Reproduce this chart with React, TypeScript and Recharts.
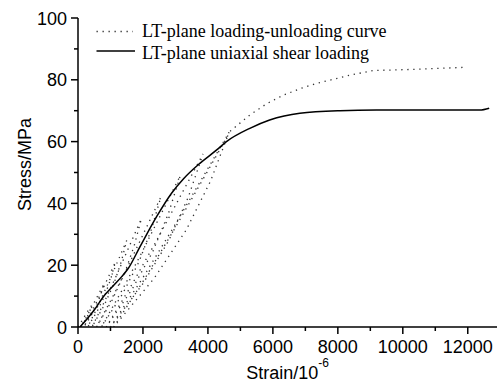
import React from 'react';
import { LineChart, Line, XAxis, YAxis, Legend } from 'recharts';

// Uniaxial shear loading (solid)
const solidStrain = [60, 500, 780, 1100, 1345, 1550, 1910, 2420, 2880, 3250, 3700, 4270, 4570, 5290, 5900, 6830, 8060, 9190, 12370, 12660];
const solidStress = [0, 5.5, 9.8, 13.5, 16.3, 19, 26, 35.7, 43.3, 48, 52.5, 57.3, 60, 64.3, 67, 69.2, 70, 70.2, 70.2, 70.8];

// Loading-unloading cycles (dotted), in path order
const cycStrain = [
  0, 150, 290, 420,
  366, 294, 199, 80,
  274, 454, 627, 800,
  701, 571, 397, 180,
  442, 684, 917, 1150,
  1014, 836, 598, 300,
  624, 924, 1212, 1500,
  1329, 1104, 805, 430,
  840, 1220, 1585, 1950,
  1729, 1439, 1053, 570,
  1105, 1600, 2075, 2550,
  2257, 1873, 1361, 720,
  1376, 1984, 2567, 3150,
  2785, 2306, 1668, 870,
  1675, 2420, 3135, 3850,
  3394, 2796, 1998, 1000,
  1986, 2898, 3774, 4650,
  4082, 3337, 2343, 1100,
  2072, 2972, 3836, 4700,
  5290, 5800, 6320, 6850, 7340, 8370, 9090, 10420, 11850,
];
const cycStress = [
  0, 2.5, 5, 7,
  5.25, 3.5, 1.75, 0,
  3.5, 7, 10.5, 14,
  10.5, 7, 3.5, 0,
  5.25, 10.5, 15.75, 21,
  15.75, 10.5, 5.25, 0,
  7, 14, 21, 28,
  21, 14, 7, 0,
  8.75, 17.5, 26.25, 35,
  26.25, 17.5, 8.75, 0,
  10.5, 21, 31.5, 42,
  31.5, 21, 10.5, 0,
  12.25, 24.5, 36.75, 49,
  36.75, 24.5, 12.25, 0,
  14, 28, 42, 56,
  42, 28, 14, 0,
  15.75, 31.5, 47.25, 63,
  47.25, 31.5, 15.75, 0,
  15.9, 31.75, 47.6, 63.5,
  68.6, 72.2, 75, 77.2, 78.8, 81.5, 83, 83.4, 84,
];

const xTicks = [0, 1000, 2000, 3000, 4000, 5000, 6000, 7000, 8000, 9000, 10000, 11000, 12000];
const yTicks = [0, 10, 20, 30, 40, 50, 60, 70, 80, 90, 100];

const legendLabels = ['LT-plane loading-unloading curve', 'LT-plane uniaxial shear loading'];

const solidData = solidStrain.map((x, i) => ({ x, y: solidStress[i] }));
const cycData = cycStrain.map((x, i) => ({ x, y: cycStress[i] }));

const SANS = 'Liberation Sans, Arial, sans-serif';
const SERIF = 'Liberation Serif, Times New Roman, serif';

const XTick = (props: any) => {
  const { x, y, payload } = props;
  const v = payload.value;
  const major = v % 2000 === 0;
  return (
    <g>
      <line x1={x} x2={x} y1={y} y2={y + (major ? 7 : 4)} stroke="#000" strokeWidth={1.5} />
      {major && (
        <text x={x} y={y + 26} textAnchor="middle" fontSize={18} fontFamily={SANS} fill="#000">
          {v}
        </text>
      )}
    </g>
  );
};

const YTick = (props: any) => {
  const { x, y, payload } = props;
  const v = payload.value;
  const major = v % 20 === 0;
  return (
    <g>
      <line x1={x - (major ? 7 : 4)} x2={x} y1={y} y2={y} stroke="#000" strokeWidth={1.5} />
      {major && (
        <text x={x - 11} y={y + 6.5} textAnchor="end" fontSize={18} fontFamily={SANS} fill="#000">
          {v}
        </text>
      )}
    </g>
  );
};

const XLabel = (props: any) => {
  const vb = props.viewBox || {};
  const cx = vb.x + vb.width / 2;
  return (
    <text x={cx} y={379} textAnchor="middle" fontSize={18} fontFamily={SANS} fill="#000">
      Strain/10
      <tspan fontSize={12} dy={-12}>-6</tspan>
    </text>
  );
};

const YLabel = (props: any) => {
  const vb = props.viewBox || {};
  const cy = vb.y + vb.height / 2 - 8;
  const cx = 31;
  return (
    <text x={cx} y={cy} transform={`rotate(-90, ${cx}, ${cy})`} textAnchor="middle" fontSize={18} fontFamily={SANS} fill="#000">
      Stress/MPa
    </text>
  );
};

const renderLegend = () => (
  <svg width={498} height={70} style={{ display: 'block' }}>
    <line x1={96.5} x2={133} y1={31.5} y2={31.5} stroke="#333" strokeWidth={1.3} strokeDasharray="1.3 4.7" />
    <text x={142} y={36.5} fontSize={18} fontFamily={SERIF} fill="#000">{legendLabels[0]}</text>
    <line x1={96.5} x2={135} y1={51} y2={51} stroke="#000" strokeWidth={1.5} />
    <text x={142} y={58.5} fontSize={18} fontFamily={SERIF} fill="#000">{legendLabels[1]}</text>
  </svg>
);

export default function App() {
  return (
    <div style={{ position: 'absolute', left: 0, top: 0, width: 498, height: 383, background: '#fff' }}>
      <LineChart width={498} height={383} margin={{ top: 18, right: 1, bottom: 0, left: 0 }}>
        <XAxis
          type="number"
          dataKey="x"
          domain={[0, 12900]}
          ticks={xTicks}
          interval={0}
          tickSize={0}
          tickMargin={0}
          tickLine={false}
          tick={<XTick />}
          height={56}
          axisLine={{ stroke: '#000', strokeWidth: 1.5 }}
          allowDataOverflow
          label={<XLabel />}
        />
        <YAxis
          type="number"
          dataKey="y"
          domain={[0, 100]}
          ticks={yTicks}
          interval={0}
          tickSize={0}
          tickMargin={0}
          tickLine={false}
          tick={<YTick />}
          width={78}
          axisLine={{ stroke: '#000', strokeWidth: 1.5 }}
          allowDataOverflow
          label={<YLabel />}
        />
        <Legend
          layout="vertical"
          verticalAlign="middle"
          align="center"
          content={renderLegend}
          wrapperStyle={{ position: 'absolute', left: 0, top: 0, width: 498, height: 70 }}
        />
        <Line
          data={cycData}
          dataKey="y"
          type="linear"
          stroke="#333"
          strokeWidth={1.3}
          strokeDasharray="1.3 4.7"
          dot={false}
          isAnimationActive={false}
          legendType="none"
        />
        <Line
          data={solidData}
          dataKey="y"
          type="monotone"
          stroke="#000"
          strokeWidth={1.5}
          dot={false}
          isAnimationActive={false}
          legendType="none"
        />
      </LineChart>
    </div>
  );
}
